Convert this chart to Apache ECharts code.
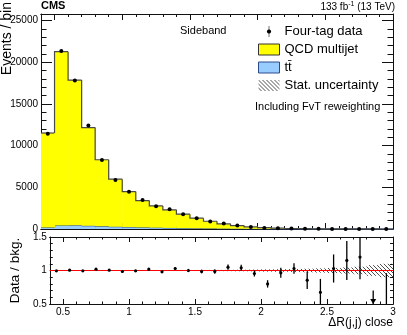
<!DOCTYPE html>
<html><head><meta charset="utf-8">
<script src="https://cdn.jsdelivr.net/npm/echarts@6/dist/echarts.min.js"></script>
<style>html,body{margin:0;padding:0;background:#fff}#c{width:407px;height:335px}</style>
</head><body><div id="c"></div>
<script>
// ---- data ----
const binEdges = [0.4,0.5,0.6,0.7,0.8,0.9,1.0,1.1,1.2,1.3,1.4,1.5,1.6,1.7,1.8,1.9,2.0,2.1,2.2,2.3,2.4,2.5,2.6,2.7,2.8,2.9,3.0];
const binCenters = [0.45,0.55,0.65,0.75,0.85,0.95,1.05,1.15,1.25,1.35,1.45,1.55,1.65,1.75,1.85,1.95,2.05,2.15,2.25,2.35,2.45,2.55,2.65,2.75,2.85,2.95];
const qcdCounts = [11340,20860,17420,11790,7990,5710,4260,3220,2610,2170,1680,1220,870,575,378,238,145,90,55,35,21,13,7.5,5,3.3,2];
const ttbarCounts = [180,420,450,380,320,270,230,190,160,130,100,80,60,45,32,22,15,10,7,5,3,2,1.5,1,0.7,0.5];
const dataCounts = [11440,21360,17830,12410,8270,5890,4470,3480,2720,2370,1780,1280,915,650,425,248,128,97,64,34,16,15,10,7,0,1];
const ratioValues = [0.995,1.005,0.995,1.02,1.005,0.985,0.995,1.02,0.98,1.03,1.0,0.985,0.985,1.05,1.04,0.955,0.80,0.965,1.03,0.855,0.675,1.03,1.15,1.2,0,0.4];
const ratioErrors = [0.009,0.007,0.008,0.009,0.011,0.013,0.015,0.017,0.019,0.021,0.024,0.028,0.033,0.04,0.045,0.045,0.055,0.075,0.08,0.13,0.2,0.21,0.29,0.33,0.7,0.56];
const statUnc = [0.003,0.003,0.003,0.003,0.004,0.004,0.005,0.005,0.006,0.006,0.007,0.008,0.009,0.01,0.012,0.014,0.017,0.02,0.023,0.027,0.032,0.038,0.045,0.055,0.08,0.1];
const xLabelValues = [0.5,1,1.5,2,2.5,3];

const X_MIN = 0.4, X_MAX = 3.0, Y_MAX = 25800, R_MIN = 0.5, R_MAX = 1.5;
const F = 'Liberation Sans, Arial, Helvetica, sans-serif';
const TT_NAME = 't\u0074\u0304';

const minorX = []; for (let k = 4; k <= 30; k++) minorX.push(k / 10);

function makeHatch() {
  const c = document.createElement('canvas'); c.width = 4; c.height = 4;
  const g = c.getContext('2d'); g.strokeStyle = '#3a3a3a'; g.lineWidth = 0.9;
  g.beginPath();
  g.moveTo(-1,-1); g.lineTo(5,5);
  g.moveTo(3,-1); g.lineTo(5,1);
  g.moveTo(-1,3); g.lineTo(1,5);
  g.stroke();
  return c;
}
const hatch = { image: makeHatch(), repeat: 'repeat' };

// stacked histogram items: [x0, x1, low, high, previousHigh]
function histItems(vals, base) {
  const items = [];
  let prevHigh = null;
  for (let i = 0; i < vals.length; i++) {
    const lo = base ? base[i] : 0;
    const hi = lo + vals[i];
    items.push([binEdges[i], binEdges[i + 1], lo, hi, prevHigh === null ? hi : prevHigh]);
    prevHigh = hi;
  }
  return items;
}
function histRender(fill, stroke, lw) {
  return function (params, api) {
    const x0 = api.value(0), x1 = api.value(1), lo = api.value(2), hi = api.value(3), ph = api.value(4);
    const a = api.coord([x0, hi]), b = api.coord([x1, lo]), p = api.coord([x0, ph]);
    return { type: 'group', children: [
      { type: 'rect', shape: { x: a[0], y: a[1], width: b[0] - a[0] + 0.5, height: b[1] - a[1] }, style: { fill: fill, stroke: null } },
      { type: 'polyline', shape: { points: [[a[0], p[1]], [a[0], a[1]], [b[0], a[1]]] }, style: { stroke: stroke, lineWidth: lw, fill: null } }
    ] };
  };
}

function xAxisDef(grid, pos, ticks, len, showLabel, extra) {
  return Object.assign({
    type: 'value', gridIndex: grid, position: pos, min: X_MIN, max: X_MAX,
    axisLine: { show: true, onZero: false, lineStyle: { color: '#111', width: 1 } },
    axisTick: { show: true, inside: true, length: len, customValues: ticks, lineStyle: { color: '#111' } },
    axisLabel: showLabel ? { show: true, customValues: xLabelValues, fontSize: 10, fontFamily: F, color: '#000', margin: 3 } : { show: false },
    splitLine: { show: false }
  }, extra || {});
}
function yAxisDef(grid, pos, min, max, interval, majLen, minLen, showLabel, extra) {
  return Object.assign({
    type: 'value', gridIndex: grid, position: pos, min: min, max: max, interval: interval,
    axisLine: { show: true, onZero: false, lineStyle: { color: '#111', width: 1 } },
    axisTick: { show: true, inside: true, length: majLen, lineStyle: { color: '#111' } },
    minorTick: { show: true, splitNumber: 5, length: minLen, lineStyle: { color: '#111' } },
    axisLabel: showLabel ? { show: true, fontSize: 10, fontFamily: F, color: '#000', margin: 3,
      showMaxLabel: grid === 1, formatter: function (v) { return String(v); } } : { show: false },
    splitLine: { show: false }, minorSplitLine: { show: false }
  }, extra || {});
}

const chart = echarts.init(document.getElementById('c'), null, { renderer: 'canvas' });

const option = {
  animation: false,
  backgroundColor: '#fff',
  grid: [
    { left: 41, right: 14, top: 14, height: 215 },
    { left: 41, right: 14, top: 237, height: 67 }
  ],
  title: [
    { text: 'CMS', left: 41, top: 0, padding: 0, textStyle: { fontSize: 11, fontWeight: 'bold', fontFamily: F, color: '#000' } },
    { text: '{a|133 fb}{s|-1}{a| (13 TeV)}', right: 12, top: 1, padding: 0,
      textStyle: { fontFamily: F, color: '#000', fontWeight: 'normal', rich: {
        a: { fontSize: 10, fontFamily: F, color: '#000', fontWeight: 'normal', lineHeight: 12 },
        s: { fontSize: 7, fontFamily: F, color: '#000', fontWeight: 'normal', verticalAlign: 'top', lineHeight: 8 } } } },
    { text: 'Sideband', left: 180, top: 25, padding: 0, textStyle: { fontSize: 11, fontWeight: 'normal', fontFamily: F, color: '#000' } },
    { text: 'Including FvT reweighting', left: 255, top: 101, padding: 0, textStyle: { fontSize: 11, fontWeight: 'normal', fontFamily: F, color: '#000' } }
  ],
  graphic: [
    { type: 'text', x: 7, y: 2, rotation: Math.PI / 2, silent: true,
      style: { text: 'Events / bin', fontSize: 14, fontFamily: F, fill: '#000', align: 'right', verticalAlign: 'middle' } }
  ],
  legend: {
    orient: 'vertical', left: 258, top: 25, itemWidth: 21, itemHeight: 11, itemGap: 5, padding: 0,
    selectedMode: false,
    textStyle: { fontSize: 13, fontFamily: F, color: '#000', lineHeight: 13 },
    data: [
      { name: 'Four-tag data', icon: 'path://M10.25,0 L10.75,0 L10.75,10 L10.25,10 Z M10.5,3 L11.9,3.6 L12.5,5 L11.9,6.4 L10.5,7 L9.1,6.4 L8.5,5 L9.1,3.6 Z', itemStyle: { color: '#000', borderWidth: 0 } },
      { name: 'QCD multijet', icon: 'rect', itemStyle: { color: '#ffff00', borderColor: '#333', borderWidth: 1 } },
      { name: TT_NAME, icon: 'rect', itemStyle: { color: '#99ccff', borderColor: '#2b4c8c', borderWidth: 1 } },
      { name: 'Stat. uncertainty', icon: 'rect', itemStyle: { color: hatch, borderWidth: 0 } }
    ]
  },
  xAxis: [
    xAxisDef(0, 'bottom', xLabelValues, 6, false),
    xAxisDef(0, 'bottom', minorX, 3, false),
    xAxisDef(0, 'top', xLabelValues, 6, false),
    xAxisDef(0, 'top', minorX, 3, false),
    xAxisDef(1, 'bottom', xLabelValues, 5, true, {
      name: '\u0394R(j,j) close', nameLocation: 'end', nameGap: 0,
      nameTextStyle: { fontSize: 12, fontFamily: F, color: '#000', align: 'right', verticalAlign: 'top', padding: [13, 0, 0, 0] } }),
    xAxisDef(1, 'bottom', minorX, 2.5, false),
    xAxisDef(1, 'top', xLabelValues, 5, false),
    xAxisDef(1, 'top', minorX, 2.5, false)
  ],
  yAxis: [
    yAxisDef(0, 'left', 0, Y_MAX, 5000, 11, 5.5, true),
    yAxisDef(0, 'right', 0, Y_MAX, 5000, 11, 5.5, false),
    yAxisDef(1, 'left', R_MIN, R_MAX, 0.5, 5.5, 3, true, {
      name: 'Data / bkg.', nameLocation: 'middle', nameRotate: 90, nameGap: 25,
      nameTextStyle: { fontSize: 13.5, fontFamily: F, color: '#000' } }),
    yAxisDef(1, 'right', R_MIN, R_MAX, 0.5, 5.5, 3, false)
  ],
  series: [
    { name: TT_NAME, type: 'custom', xAxisIndex: 0, yAxisIndex: 0, z: 2,
      itemStyle: { color: '#99ccff' }, encode: { x: [0, 1], y: [2, 3] },
      data: histItems(ttbarCounts, null),
      renderItem: histRender('#99ccff', '#2b4c8c', 1) },
    { name: 'QCD multijet', type: 'custom', xAxisIndex: 0, yAxisIndex: 0, z: 2,
      itemStyle: { color: '#ffff00' }, encode: { x: [0, 1], y: [2, 3] },
      data: histItems(qcdCounts, ttbarCounts),
      renderItem: histRender('#ffff00', '#4a4a4a', 1.2) },
    { name: 'Four-tag data', type: 'custom', xAxisIndex: 0, yAxisIndex: 0, z: 5,
      itemStyle: { color: '#000' },
      encode: { x: 0, y: 1 },
      data: binCenters.map((x, i) => [x, dataCounts[i], Math.sqrt(dataCounts[i])]),
      renderItem: function (params, api) {
        const x = api.value(0), y = api.value(1), e = api.value(2);
        const c = api.coord([x, y]), t = api.coord([x, y + e]), b = api.coord([x, Math.max(y - e, 0)]);
        return { type: 'group', children: [
          { type: 'line', shape: { x1: c[0], y1: t[1], x2: c[0], y2: b[1] }, style: { stroke: '#000', lineWidth: 1 } },
          { type: 'circle', shape: { cx: c[0], cy: c[1], r: 2 }, style: { fill: '#000' } }
        ] };
      } },
    { name: 'Stat. uncertainty', type: 'custom', xAxisIndex: 4, yAxisIndex: 2, z: 2,
      itemStyle: { color: '#555' },
      encode: { x: [0, 1] },
      data: binCenters.map((x, i) => [binEdges[i], binEdges[i + 1], statUnc[i]]),
      renderItem: function (params, api) {
        const u = api.value(2);
        const p0 = api.coord([api.value(0), 1 + u]);
        const p1 = api.coord([api.value(1), 1 - u]);
        return { type: 'rect', shape: { x: p0[0], y: p0[1], width: p1[0] - p0[0], height: p1[1] - p0[1] },
          style: { fill: hatch, stroke: null } };
      } },
    { name: 'unity', type: 'line', xAxisIndex: 4, yAxisIndex: 2, z: 3, showSymbol: false, symbol: 'none',
      data: [[X_MIN, 1], [X_MAX, 1]], lineStyle: { color: '#ff0000', width: 1 } },
    { name: 'ratio', type: 'custom', xAxisIndex: 4, yAxisIndex: 2, z: 5,
      encode: { x: 0, y: 1 },
      data: binCenters.map((x, i) => [x, ratioValues[i], ratioErrors[i]]),
      renderItem: function (params, api) {
        const x = api.value(0), r = api.value(1), e = api.value(2);
        const children = [];
        if (r < R_MIN) {
          const t = api.coord([x, r + e]), b = api.coord([x, R_MIN]);
          children.push({ type: 'line', shape: { x1: t[0], y1: t[1], x2: t[0], y2: b[1] }, style: { stroke: '#000', lineWidth: 1.3 } });
          if (r === 0) {
            children.push({ type: 'polygon', shape: { points: [[b[0] - 3, b[1] - 5], [b[0] + 3, b[1] - 5], [b[0], b[1]]] }, style: { fill: '#000' } });
          }
        } else {
          const c = api.coord([x, r]), t = api.coord([x, Math.min(r + e, R_MAX)]), b = api.coord([x, Math.max(r - e, R_MIN)]);
          children.push({ type: 'line', shape: { x1: c[0], y1: t[1], x2: c[0], y2: b[1] }, style: { stroke: '#000', lineWidth: 1.3 } });
          children.push({ type: 'circle', shape: { cx: c[0], cy: c[1], r: 1.6 }, style: { fill: '#000' } });
        }
        return { type: 'group', children: children };
      } }
  ]
};
chart.setOption(option);
</script>
</body></html>
